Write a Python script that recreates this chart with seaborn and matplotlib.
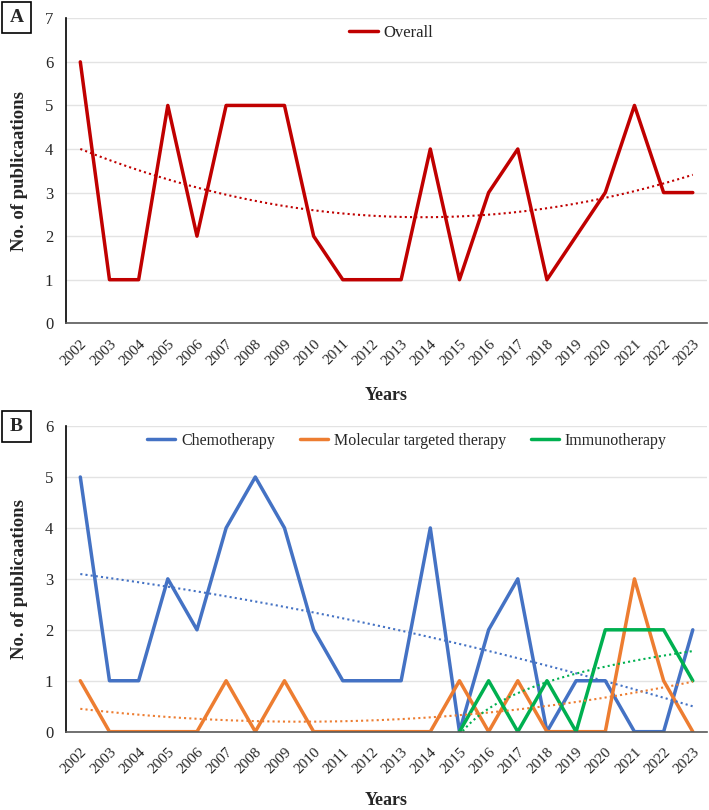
import numpy as np
import pandas as pd
import matplotlib
matplotlib.use("Agg")
import matplotlib.pyplot as plt
from matplotlib.patches import Rectangle
import seaborn as sns

# ---------------------------------------------
# Data
# ---------------------------------------------
years = list(range(2002, 2024))
overall = [6, 1, 1, 5, 2, 5, 5, 5, 2, 1, 1, 1, 4, 1, 3, 4, 1, 2, 3, 5, 3, 3]
chemo = [5, 1, 1, 3, 2, 4, 5, 4, 2, 1, 1, 1, 4, 0, 2, 3, 0, 1, 1, 0, 0, 2]
targeted = [1, 0, 0, 0, 0, 1, 0, 1, 0, 0, 0, 0, 0, 1, 0, 1, 0, 0, 0, 3, 1, 0]
immuno_years = list(range(2015, 2024))
immuno = [0, 1, 0, 1, 0, 2, 2, 2, 1]

RED = "#C00000"
BLUE = "#4472C4"
ORANGE = "#ED7D31"
GREEN = "#00B050"
DOTS = (0, (1, 1.5))

sns.set_theme(style="white")
plt.rcParams["font.family"] = ["Liberation Serif", "DejaVu Serif"]


def poly_trend(x, y, deg=2):
    """Excel-style polynomial trendline evaluated on a fine grid."""
    xi = np.arange(len(x))
    coef = np.polyfit(xi, y, deg)
    xf = np.linspace(0, len(x) - 1, 200)
    return x[0] + xf, np.polyval(coef, xf)


def log_trend(x, y):
    """Excel-style logarithmic trendline (x = 1..n)."""
    xi = np.arange(1, len(x) + 1)
    a, b = np.polyfit(np.log(xi), y, 1)
    xf = np.linspace(1, len(x), 200)
    return x[0] + xf - 1, a * np.log(xf) + b


def style_axis(ax, ymax, xlabelpad):
    ax.set_xlim(2001.5, 2023.5)
    ax.set_ylim(0, ymax)
    ax.set_yticks(range(0, ymax + 1))
    ax.set_xticks(years)
    ax.set_xticklabels([str(y) for y in years], rotation=45, ha="right",
                       rotation_mode="anchor", fontsize=11)
    ax.tick_params(axis="x", length=0, pad=10)
    ax.tick_params(axis="y", length=0, pad=9, labelsize=12)
    ax.grid(axis="y", color="#e3e3e3", linewidth=1)
    ax.set_axisbelow(True)
    for s in ["top", "right"]:
        ax.spines[s].set_visible(False)
    ax.spines["left"].set_color("black")
    ax.spines["left"].set_linewidth(1.2)
    ax.spines["bottom"].set_color("#595959")
    ax.spines["bottom"].set_linewidth(1.2)
    ax.set_ylabel("No. of publicaations", fontsize=13.5, fontweight="bold", labelpad=12)
    ax.set_xlabel("Years", fontsize=13, fontweight="bold", labelpad=xlabelpad)


def panel_letter(fig, letter, x0, y0, w=29, h=31):
    # box given in pixels from the top-left corner
    W, H = 709, 810
    fig.patches.append(Rectangle((x0 / W, 1 - (y0 + h) / H), w / W, h / H,
                                 transform=fig.transFigure, fc="white",
                                 ec="black", lw=1.2))
    fig.text((x0 + w / 2) / W, 1 - (y0 + h / 2) / H, letter, fontsize=14,
             fontweight="bold", ha="center", va="center")


fig = plt.figure(figsize=(7.09, 8.10), dpi=100)
axA = fig.add_axes([0.0927, 0.6009, 0.905, 0.3765])
axB = fig.add_axes([0.0927, 0.0967, 0.905, 0.3773])

# ---- Panel A ----
dfA = pd.DataFrame({"Year": years, "Overall": overall})
sns.lineplot(data=dfA, x="Year", y="Overall", ax=axA, color=RED, linewidth=2.5,
             label="Overall")
tx, ty = poly_trend(years, overall, 2)
sns.lineplot(x=tx, y=ty, ax=axA, color=RED, linewidth=1.5, linestyle=DOTS)
style_axis(axA, 7, 14)
axA.legend(loc="upper center", bbox_to_anchor=(0.507, 1.027), frameon=False,
           fontsize=12, handlelength=1.75, handletextpad=0.35)

# ---- Panel B ----
dfB = pd.DataFrame({"Year": years, "Chemotherapy": chemo,
                    "Molecular targeted therapy": targeted})
sns.lineplot(data=dfB, x="Year", y="Chemotherapy", ax=axB, color=BLUE,
             linewidth=2.5, label="Chemotherapy")
sns.lineplot(data=dfB, x="Year", y="Molecular targeted therapy", ax=axB,
             color=ORANGE, linewidth=2.5, label="Molecular targeted therapy")
dfI = pd.DataFrame({"Year": immuno_years, "Immunotherapy": immuno})
sns.lineplot(data=dfI, x="Year", y="Immunotherapy", ax=axB, color=GREEN,
             linewidth=2.5, label="Immunotherapy")

for yv, col in [(chemo, BLUE), (targeted, ORANGE)]:
    tx, ty = poly_trend(years, yv, 2)
    sns.lineplot(x=tx, y=ty, ax=axB, color=col, linewidth=1.5, linestyle=DOTS)
tx, ty = log_trend(immuno_years, immuno)
sns.lineplot(x=tx, y=ty, ax=axB, color=GREEN, linewidth=1.5, linestyle=DOTS)

style_axis(axB, 6, 11)
axB.legend(loc="upper center", bbox_to_anchor=(0.532, 1.025), frameon=False,
           fontsize=11.5, ncol=3, handlelength=1.75, handletextpad=0.35,
           columnspacing=1.6)

panel_letter(fig, "A", 2, 2)
panel_letter(fig, "B", 2, 411)

fig.savefig("out.png", dpi=100)
